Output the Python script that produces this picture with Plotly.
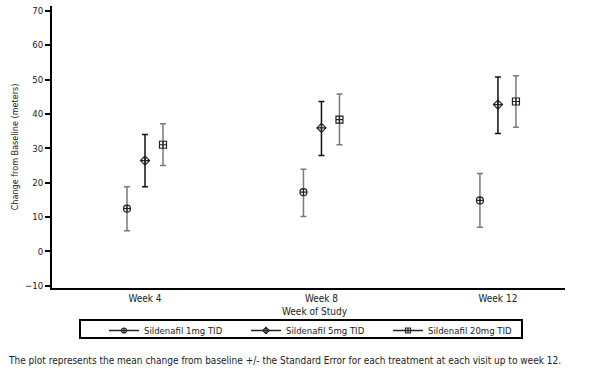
import plotly.graph_objects as go

weeks = ["Week 4", "Week 8", "Week 12"]
series = ["Sildenafil 1mg TID", "Sildenafil 5mg TID", "Sildenafil 20mg TID"]
mean_1mg = [12.4, 17.2, 14.8]
up_1mg = [6.4, 6.7, 7.8]
down_1mg = [6.4, 7.1, 7.8]
mean_5mg = [26.4, 35.9, 42.7]
up_5mg = [7.6, 7.7, 8.0]
down_5mg = [7.6, 8.0, 8.4]
mean_20mg = [31.0, 38.3, 43.6]
up_20mg = [6.1, 7.5, 7.5]
down_20mg = [6.0, 7.3, 7.5]

means = [mean_1mg, mean_5mg, mean_20mg]
ups = [up_1mg, up_5mg, up_20mg]
downs = [down_1mg, down_5mg, down_20mg]
offsets = [-0.102, 0.0, 0.102]
symbols = ["circle-cross-open", "diamond-cross-open", "square-cross-open"]
err_colors = ["#7a7a7a", "#111111", "#7a7a7a"]
sizes = [7, 7, 7]

FONT = "DejaVu Sans Condensed, Liberation Sans Narrow, Arial Narrow, sans-serif"

W, H = 589, 386
L, R, T, B = 52, 24, 6, 98
PW, PH = W - L - R, H - T - B


def px_x(x):
    return (x - L) / PW


def px_y(y):
    return (H - B - y) / PH


fig = go.Figure()
for i, name in enumerate(series):
    xs = [k + offsets[i] for k in range(len(weeks))]
    fig.add_trace(go.Scatter(
        x=xs, y=means[i], mode="markers", name=name, showlegend=False,
        marker=dict(symbol=symbols[i], size=sizes[i], color="#222222",
                    line=dict(width=1.2, color="#222222")),
        error_y=dict(type="data", symmetric=False, array=ups[i], arrayminus=downs[i],
                     color=err_colors[i], thickness=1.5, width=3),
    ))
for i, name in enumerate(series):
    fig.add_trace(go.Scatter(
        x=[None], y=[None], mode="lines+markers", name=name,
        marker=dict(symbol=symbols[i], size=5, color="#222222",
                    line=dict(width=1.2, color="#222222")),
        line=dict(color="#222222", width=1.5),
    ))

fig.update_layout(
    width=W, height=H,
    margin=dict(l=L, r=R, t=T, b=B, autoexpand=False),
    paper_bgcolor="white", plot_bgcolor="white",
    font=dict(family=FONT, size=10, color="#222222"),
    xaxis=dict(range=[-0.527, 2.38], tickvals=list(range(len(weeks))), ticktext=weeks,
               showgrid=False, zeroline=False, showline=True, linecolor="black",
               linewidth=2, ticks="", tickfont=dict(size=10)),
    yaxis=dict(range=[-10.7, 71.4], tickvals=list(range(-10, 71, 10)),
               showgrid=False, zeroline=False, showline=True, linecolor="black",
               linewidth=2, ticks="outside", ticklen=5, tickwidth=1.5, tickcolor="black",
               tickfont=dict(size=9.5),
               title=dict(text="Change from Baseline (meters)", font=dict(size=9), standoff=5)),
    legend=dict(orientation="h", x=px_x(104), xanchor="left", y=px_y(316), yanchor="top",
                bgcolor="rgba(0,0,0,0)", borderwidth=0, font=dict(size=9.5),
                itemwidth=30, tracegroupgap=0, entrywidth=97),
    showlegend=True,
    shapes=[dict(type="rect", xref="paper", yref="paper",
                 x0=px_x(80), x1=px_x(522), y0=px_y(338), y1=px_y(320),
                 line=dict(color="black", width=2), fillcolor="rgba(0,0,0,0)", layer="below")],
    annotations=[
        dict(text="Week of Study", xref="paper", yref="paper", x=px_x(315), y=px_y(311),
             yanchor="middle", showarrow=False, font=dict(size=10)),
        dict(text="The plot represents the mean change from baseline +/- the Standard Error for each treatment at each visit up to week 12.",
             xref="paper", yref="paper", x=px_x(6), xanchor="left", y=px_y(360), yanchor="middle",
             showarrow=False, font=dict(size=10)),
    ],
)

fig.write_html("out.html", config={"displayModeBar": False},
               post_script="document.body.style.margin='0px';")
